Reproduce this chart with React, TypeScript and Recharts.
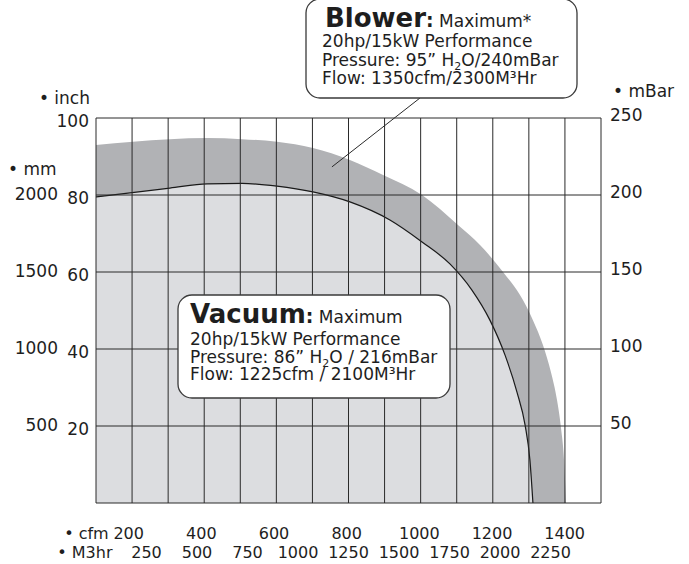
import React from "react";
import { ComposedChart, Area, XAxis, YAxis, CartesianGrid, ReferenceLine } from "recharts";

const W = 689;
const H = 564;
const MARGIN = { top: 118, right: 88, bottom: 61, left: 96 };
// overlay chart: axes of 1px width/height each eat into the margins
const MARGIN_AXES = { top: 118, right: 87, bottom: 59, left: 94 };
const FONT = '"DejaVu Sans", Verdana, sans-serif';
const INK = "#1e1e1e";

// Flow (M3/hr) and pressure (inch H2O)
const vacuumFlow = [0, 366, 550, 723, 896, 1074, 1257, 1455, 1614, 1752, 1861, 1950, 2025, 2084, 2124, 2148, 2163];
const vacuumInch = [79.5, 81.8, 82.9, 83.0, 82.3, 80.8, 78.2, 73.5, 67.8, 62.1, 55.3, 47.5, 38.4, 28.8, 20.3, 11.2, 0];
const blowerFlow = [0, 366, 550, 723, 896, 1074, 1257, 1421, 1614, 1792, 1901, 2015, 2099, 2163, 2213, 2252, 2282, 2302, 2317, 2327];
const blowerInch = [93.0, 94.5, 94.8, 94.5, 93.8, 92.2, 89.1, 85.2, 80.0, 72.2, 67.0, 60.0, 54.0, 47.5, 41.0, 34.0, 26.8, 19.5, 11.2, 0];

// Axis ticks
const gridColumns = [0, 1, 2, 3, 4, 5, 6, 7, 8, 9, 10, 11, 12, 13, 14];
const inchTicks = [0, 20, 40, 60, 80, 100];
const mmTicks = [500, 1000, 1500, 2000];
const mBarTicks = [50, 100, 150, 200, 250];
const cfmTicks = [200, 400, 600, 800, 1000, 1200, 1400];
const m3hrTicks = [250, 500, 750, 1000, 1250, 1500, 1750, 2000, 2250];

// Leader line from the Blower note to the band (data coords)
const blowerLeader = [
  { x: 1168, y: 87.3 },
  { x: 1604, y: 105.2 },
];

const flows = Array.from(new Set([...vacuumFlow, ...blowerFlow])).sort((a, b) => a - b);
const chartData = flows.map((f) => {
  const vi = vacuumFlow.indexOf(f);
  const bi = blowerFlow.indexOf(f);
  return {
    flow: f,
    vacuum: vi >= 0 ? vacuumInch[vi] : null,
    blower: bi >= 0 ? blowerInch[bi] : null,
  };
});

const txt = { fontFamily: FONT, fill: INK };

const InchTick = (p: any) => {
  if (p.payload.value === 0) return <g />;
  return (
    <text x={89} y={p.y + 9} textAnchor="end" fontSize={17} style={txt}>
      {p.payload.value}
    </text>
  );
};
const MmTick = (p: any) => (
  <text x={58} y={p.y + 5} textAnchor="end" fontSize={17} style={txt}>
    {p.payload.value}
  </text>
);
const MBarTick = (p: any) => (
  <text x={610} y={p.y + 3} textAnchor="start" fontSize={17} style={txt}>
    {p.payload.value}
  </text>
);
const CfmTick = (p: any) => (
  <g>
    {p.index === 0 ? (
      <text x={p.x - 20} y={539} textAnchor="end" fontSize={16} style={txt}>
        • cfm
      </text>
    ) : null}
    <text x={p.x} y={539} textAnchor="middle" fontSize={16} style={txt}>
      {p.payload.value}
    </text>
  </g>
);
const M3Tick = (p: any) => (
  <g>
    {p.index === 0 ? (
      <text x={p.x - 34} y={558} textAnchor="end" fontSize={16} style={txt}>
        • M3hr
      </text>
    ) : null}
    <text x={p.x} y={558} textAnchor="middle" fontSize={16} style={txt}>
      {p.payload.value}
    </text>
  </g>
);

export default function App() {
  return (
    <div style={{ position: "absolute", left: 0, top: 0, width: W, height: H, background: "#fff" }}>
      {/* fills */}
      <div style={{ position: "absolute", left: 0, top: 0 }}>
        <ComposedChart width={W} height={H} data={chartData} margin={MARGIN}>
          <XAxis dataKey="flow" type="number" domain={[0, 2500]} hide allowDataOverflow />
          <YAxis type="number" domain={[0, 100]} hide allowDataOverflow />
          <Area
            dataKey="blower"
            type="monotone"
            fill="#b1b2b5"
            fillOpacity={1}
            stroke="none"
            connectNulls
            isAnimationActive={false}
            dot={false}
            activeDot={false}
          />
          <Area
            dataKey="vacuum"
            type="monotone"
            fill="#dcdde0"
            fillOpacity={1}
            stroke="#1a1a1a"
            strokeWidth={1.2}
            connectNulls
            isAnimationActive={false}
            dot={false}
            activeDot={false}
          />
        </ComposedChart>
      </div>
      {/* grid + axes */}
      <div style={{ position: "absolute", left: 0, top: 0 }}>
        <ComposedChart width={W} height={H} data={chartData} margin={MARGIN_AXES}>
          <XAxis
            xAxisId="grid"
            dataKey="flow"
            type="number"
            domain={[0, 14]}
            ticks={gridColumns}
            hide
            allowDataOverflow
          />
          <XAxis
            xAxisId="m3"
            type="number"
            dataKey="flow"
            domain={[0, 2500]}
            ticks={m3hrTicks}
            height={1}
            axisLine={false}
            tickLine={false}
            tick={M3Tick}
            interval={0}
            allowDataOverflow
          />
          <XAxis
            xAxisId="cfm"
            type="number"
            dataKey="flow"
            domain={[110, 1500]}
            ticks={cfmTicks}
            height={1}
            axisLine={false}
            tickLine={false}
            tick={CfmTick}
            interval={0}
            allowDataOverflow
          />
          <YAxis
            yAxisId="inch"
            type="number"
            domain={[0, 100]}
            ticks={inchTicks}
            width={1}
            axisLine={false}
            tickLine={false}
            tick={InchTick}
            interval={0}
            allowDataOverflow
          />
          <YAxis
            yAxisId="mm"
            type="number"
            domain={[0, 2500]}
            ticks={mmTicks}
            width={1}
            axisLine={false}
            tickLine={false}
            tick={MmTick}
            interval={0}
            allowDataOverflow
          />
          <YAxis
            yAxisId="mbar"
            orientation="right"
            type="number"
            domain={[0, 250]}
            ticks={mBarTicks}
            width={1}
            axisLine={false}
            tickLine={false}
            tick={MBarTick}
            interval={0}
            allowDataOverflow
          />
          <CartesianGrid xAxisId="grid" yAxisId="inch" stroke="#2a2a2a" strokeWidth={1} fill="none" />
          <ReferenceLine
            xAxisId="m3"
            yAxisId="inch"
            segment={blowerLeader}
            stroke="#2a2a2a"
            strokeWidth={1}
            ifOverflow="visible"
          />
        </ComposedChart>
      </div>
      {/* notes and axis titles */}
      <svg
        width={W}
        height={H}
        style={{ position: "absolute", left: 0, top: 0, pointerEvents: "none", whiteSpace: "pre" }}
      >
        <g style={txt}>
          <text x={90} y={104} textAnchor="end" fontSize={17}>• inch</text>
          <text x={8} y={175} fontSize={17}>• mm</text>
          <text x={613} y={97} fontSize={17}>• mBar</text>
        </g>

        <rect x={306} y={-1} width={271} height={99} rx={14} fill="#fff" stroke="#3a3a3a" strokeWidth={1.3} />
        <g style={txt}>
          <text y={27}>
            <tspan x={325} fontSize={26} fontWeight="bold">Blower</tspan>
            <tspan fontSize={19} fontWeight="bold">:</tspan>
            <tspan fontSize={17}> Maximum*</tspan>
          </text>
          <text x={322} y={47} fontSize={17}>20hp/15kW Performance</text>
          <text x={322} y={66} fontSize={17}>
            Pressure: 95” H<tspan fontSize={11} dy={4}>2</tspan>
            <tspan dy={-4}>O/240mBar</tspan>
          </text>
          <text x={322} y={84} fontSize={17}>Flow: 1350cfm/2300M³Hr</text>
        </g>

        <rect x={178} y={295} width={272} height={103} rx={14} fill="#fff" stroke="#3a3a3a" strokeWidth={1.3} />
        <g style={txt}>
          <text y={323}>
            <tspan x={190} fontSize={26} fontWeight="bold">Vacuum</tspan>
            <tspan fontSize={19} fontWeight="bold">:</tspan>
            <tspan fontSize={17}> Maximum</tspan>
          </text>
          <text x={190} y={345} fontSize={17}>20hp/15kW Performance</text>
          <text x={190} y={363} fontSize={17}>
            Pressure: 86” H<tspan fontSize={11} dy={4}>2</tspan>
            <tspan dy={-4}>O / 216mBar</tspan>
          </text>
          <text x={190} y={380} fontSize={17}>Flow: 1225cfm / 2100M³Hr</text>
        </g>
      </svg>
    </div>
  );
}
